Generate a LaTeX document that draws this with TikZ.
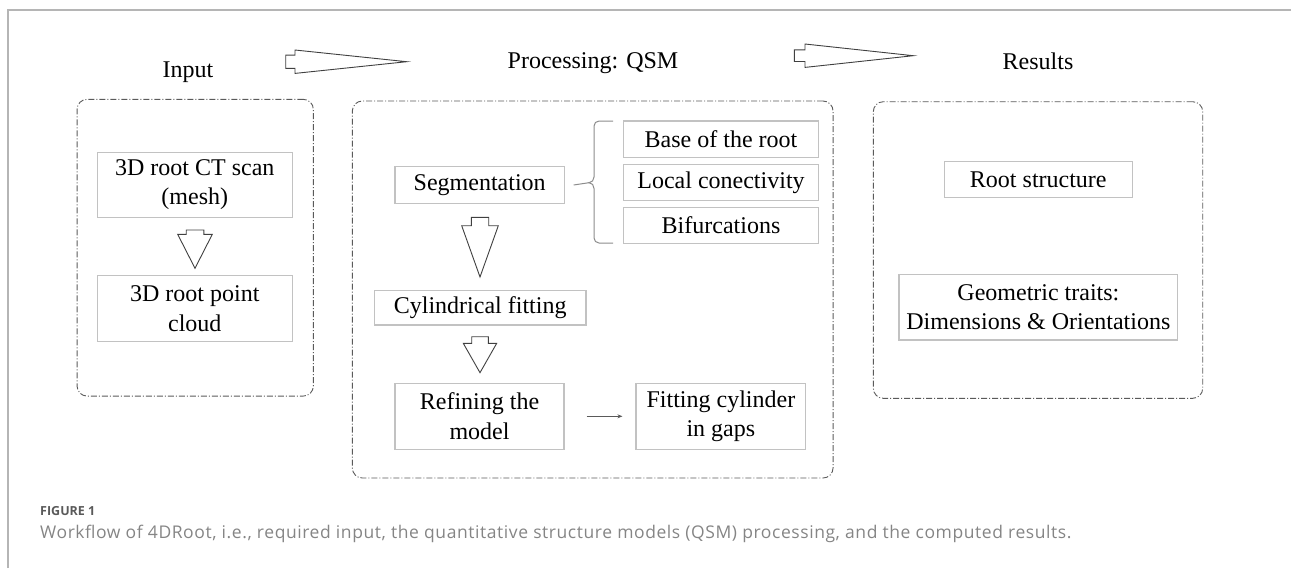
\documentclass[tikz,border=0pt]{standalone}
\usepackage{fontspec}
\setmainfont{Liberation Serif}
\newfontfamily\capfont{Open Sans}
\newfontfamily\capwidefont[LetterSpace=3.3]{Open Sans}
\usetikzlibrary{arrows.meta}
\definecolor{boxgray}{HTML}{C2C2C2}
\definecolor{dashgray}{HTML}{5A5A5A}
\definecolor{arrgray}{HTML}{404040}
\definecolor{framegray}{HTML}{B5B5B5}
\definecolor{capgray}{HTML}{858585}
\definecolor{figgray}{HTML}{5A5A5A}
\definecolor{bracegray}{HTML}{8C8C8C}
\newcommand\myHollowDown[6]{%
  \draw[hollow] ({#1-#5},{#2}) -- ({#1+#5},{#2}) -- ({#1+#5},{#3}) -- ({#1+#6},{#3}) -- ({#1},{#4}) -- ({#1-#6},{#3}) -- ({#1-#5},{#3}) -- cycle;}
\newcommand\myHollowRight[6]{%
  \draw[hollow] ({#2},{#1-#5}) -- ({#3},{#1-#5}) -- ({#3},{#1-#6}) -- ({#4},{#1}) -- ({#3},{#1+#6}) -- ({#3},{#1+#5}) -- ({#2},{#1+#5}) -- cycle;}
\begin{document}
\begin{tikzpicture}[x=1pt,y=-1pt,
  font=\fontsize{24}{29.5}\selectfont,
  inbox/.style={draw=boxgray, line width=1.2pt, align=center, inner sep=0pt, text=black},
  container/.style={draw=dashgray, line width=0.9pt, rounded corners=10pt,
    dash pattern=on 6pt off 2pt on 1pt off 2pt, inner sep=0pt},
  title/.style={anchor=base, inner sep=0pt},
  hollow/.style={draw=arrgray, line width=0.9pt, fill=white, line join=miter},
  smallarrow/.style={draw=dashgray, line width=0.9pt, -{Stealth[length=5pt,width=4pt]}},
  bracestyle/.style={draw=bracegray, line width=1pt}
]
\useasboundingbox (0,0) rectangle (1291,568);
% frame
\draw[framegray, line width=1.6pt] (8,568) -- (8,10) -- (1291,10);

% titles
\node[title] (tin) at (188,77) {Input};
\node[title] (tproc) at (593,68) {Processing: QSM};
\node[title] (tres) at (1038,69) {Results};

% block arrows between titles
\myHollowRight{61.7}{285.7}{295}{406.7}{6.6}{11.7}
\myHollowRight{55.7}{794.3}{805}{913.3}{5.8}{11.7}

% containers
\node[container, minimum width=236.3pt, minimum height=296.7pt] (cin) at (195.2,247.7) {};
\node[container, minimum width=480.7pt, minimum height=377pt] (cproc) at (592.7,289.5) {};
\node[container, minimum width=329.4pt, minimum height=296.6pt] (cres) at (1038,250) {};

% input boxes
\node[inbox, minimum width=195pt, minimum height=65pt] (scan) at (194.8,184.8) {3D root CT scan\\(mesh)};
\node[inbox, minimum width=195pt, minimum height=66pt] (cloud) at (194.8,308.7) {3D root point\\cloud};
\myHollowDown{195}{230}{234.3}{268.3}{8.8}{17.3}

% processing boxes
\node[inbox, minimum width=169.3pt, minimum height=36.6pt] (seg) at (479.7,185) {Segmentation};
\node[inbox, minimum width=195.4pt, minimum height=36.3pt] (base) at (721,139.2) {Base of the root};
\node[inbox, minimum width=195.4pt, minimum height=36pt] (local) at (721,182.3) {Local conectivity};
\node[inbox, minimum width=195.4pt, minimum height=36pt] (bif) at (721,225.3) {Bifurcations};
\node[inbox, minimum width=211.7pt, minimum height=34.3pt] (cyl) at (480.2,307.9) {Cylindrical fitting};
\node[inbox, minimum width=169pt, minimum height=66pt] (refine) at (479.5,416.3) {Refining the\\model};
\node[inbox, minimum width=169.7pt, minimum height=66pt] (fitgap) at (720.9,416.3) {Fitting cylinder\\in gaps};
\myHollowDown{480}{217.3}{225.7}{277}{8.7}{18.3}
\myHollowDown{480}{336.7}{343.3}{372.7}{8.3}{16.7}
\draw[smallarrow] ([xshift=22pt]refine.east) -- ([xshift=-13pt]fitgap.west);

% brace
\coordinate (btip) at ([xshift=8.7pt]seg.east);
\draw[bracestyle] (613,121) -- (599,121) to[out=180,in=90] (594,126) -- (594,177) to[out=-90,in=0] (589,182.7) to[out=0,in=90] (594,188.5) -- (594,238) to[out=-90,in=180] (599,243) -- (613,243);
\draw[bracestyle] (btip) -- (589,182.7);

% results boxes
\node[inbox, minimum width=188pt, minimum height=35.6pt] (root) at (1038.3,179.5) {Root structure};
\node[inbox, minimum width=278.7pt, minimum height=65.7pt] (geo) at (1038.4,307.2) {Geometric traits:\\Dimensions \& Orientations};

% caption
\node[anchor=west, inner sep=0pt, text=figgray, font=\capfont\bfseries\fontsize{12.5}{15}\selectfont] (figlab) at (40,511.5) {FIGURE 1};
\node[anchor=west, inner sep=0pt, text=capgray, font=\capwidefont\fontsize{17.5}{20}\selectfont] (cap) at (40,533.5) {Workflow of 4DRoot, i.e., required input, the quantitative structure models (QSM) processing, and the computed results.};
\end{tikzpicture}
\end{document}
